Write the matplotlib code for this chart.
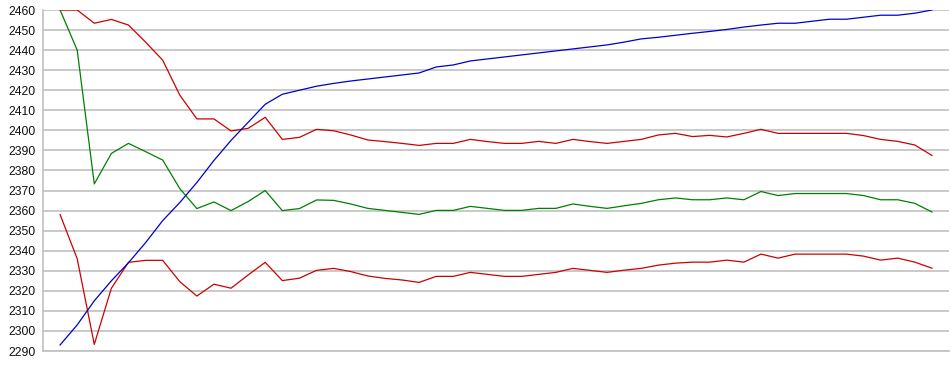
from matplotlib import pyplot as plt
import numpy as np

# values, one point per step
blue = [2293, 2303, 2315, 2325, 2334, 2344, 2355, 2364, 2374, 2385, 2395, 2404, 2413,
        2418, 2420, 2422, 2423.4, 2424.6, 2425.6, 2426.6, 2427.6, 2428.6, 2431.6, 2432.6,
        2434.6, 2435.6, 2436.6, 2437.6, 2438.6, 2439.6, 2440.6, 2441.6, 2442.6, 2444,
        2445.6, 2446.4, 2447.4, 2448.4, 2449.3, 2450.3, 2451.5, 2452.5, 2453.4, 2453.4,
        2454.4, 2455.4, 2455.4, 2456.4, 2457.4, 2457.4, 2458.4, 2460]
red_upper = [2460, 2460, 2453.4, 2455.3, 2452.5, 2444, 2435, 2417.6, 2405.7, 2405.7,
             2399.7, 2401, 2406.5, 2395.5, 2396.5, 2400.5, 2399.8, 2397.7, 2395.2, 2394.4,
             2393.5, 2392.5, 2393.5, 2393.5, 2395.5, 2394.4, 2393.5, 2393.5, 2394.5, 2393.5,
             2395.5, 2394.4, 2393.5, 2394.5, 2395.5, 2397.7, 2398.5, 2396.9, 2397.5, 2396.7,
             2398.5, 2400.5, 2398.5, 2398.5, 2398.5, 2398.5, 2398.5, 2397.4, 2395.5, 2394.5,
             2392.7, 2387.5]
green = [2460, 2440, 2373.3, 2388.5, 2393.5, 2389.4, 2385.2, 2371, 2361, 2364.3, 2360,
         2364.5, 2370, 2360, 2361, 2365.3, 2365.1, 2363.3, 2361.1, 2360.1, 2359.1, 2358.1,
         2360.1, 2360.1, 2362.1, 2361.1, 2360.1, 2360.1, 2361.1, 2361.1, 2363.3, 2362.1,
         2361.1, 2362.4, 2363.6, 2365.4, 2366.3, 2365.4, 2365.4, 2366.3, 2365.4, 2369.5,
         2367.5, 2368.5, 2368.5, 2368.5, 2368.5, 2367.5, 2365.4, 2365.4, 2363.6, 2359.3]
red_lower = [2358, 2336, 2293.3, 2321.3, 2334.2, 2335.2, 2335.2, 2324.6, 2317.4, 2323.3,
             2321.3, 2327.9, 2334.2, 2325.1, 2326.3, 2330.2, 2331.2, 2329.6, 2327.4, 2326.2,
             2325.4, 2324.2, 2327.2, 2327.2, 2329.2, 2328.2, 2327.2, 2327.2, 2328.2, 2329.2,
             2331.2, 2330.2, 2329.2, 2330.3, 2331.2, 2332.8, 2333.8, 2334.3, 2334.3, 2335.3,
             2334.3, 2338.3, 2336.3, 2338.3, 2338.3, 2338.3, 2338.3, 2337.3, 2335.3, 2336.3,
             2334.3, 2331.3]
y_ticks = list(range(2290, 2461, 10))

plt.rcParams['font.family'] = ['Liberation Sans', 'DejaVu Sans']

fig = plt.figure(figsize=(9.5, 3.75), dpi=100)
ax = fig.add_axes([43 / 950, 1 - 351 / 375, 906 / 950, 341 / 375])

x = np.arange(len(blue))
lw = 0.9
ax.plot(x, red_upper, color='#cc0000', linewidth=lw)
ax.plot(x, green, color='#008000', linewidth=lw)
ax.plot(x, red_lower, color='#cc0000', linewidth=lw)
ax.plot(x, blue, color='#0000cc', linewidth=lw)

ax.set_xlim(-1, 52)
ax.set_ylim(2290, 2460)
ax.set_yticks(y_ticks)
ax.set_xticks([])
ax.grid(axis='y', color='#c0c0c0', linewidth=1.2)
ax.set_axisbelow(True)
ax.tick_params(axis='y', length=0, pad=5, labelsize=8.7, labelcolor='#111111')

for side in ['top', 'right']:
    ax.spines[side].set_visible(False)
for side in ['left', 'bottom']:
    ax.spines[side].set_color('#c0c0c0')
    ax.spines[side].set_linewidth(1.2)

fig.savefig('out.png', dpi=100)
